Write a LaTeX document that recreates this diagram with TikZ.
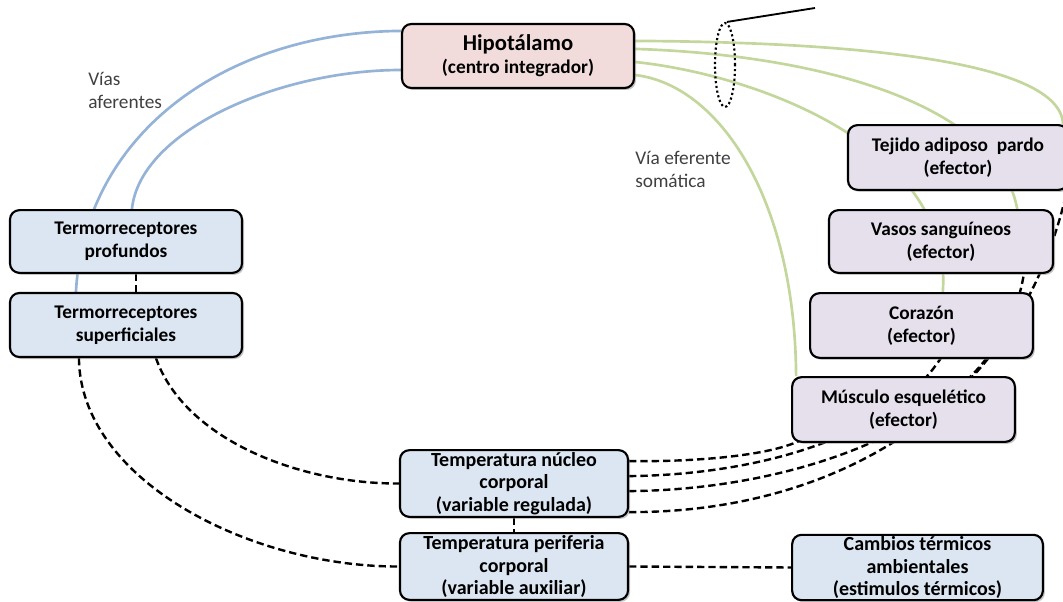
\documentclass[tikz,border=0pt]{standalone}
\usepackage{fontspec}
\setmainfont{Carlito}
\usetikzlibrary{shapes.geometric,shadows,calc}
\definecolor{bluefill}{HTML}{DCE6F2}
\definecolor{purplefill}{HTML}{E5E0EC}
\definecolor{pinkfill}{HTML}{F2DCDB}
\definecolor{afferent}{HTML}{95B3D7}
\definecolor{efferent}{HTML}{C3D69B}
\definecolor{labelgray}{HTML}{404040}
\pgfdeclarelayer{background}
\pgfsetlayers{background,main}
\tikzset{
  box/.style={draw=black, line width=1.6pt, rounded corners=7pt, inner sep=0pt, align=center,
    font=\fontsize{14.5}{17.5}\selectfont\bfseries,
    drop shadow={shadow xshift=1.5pt, shadow yshift=-1.5pt, fill=black!45, opacity=0.5}},
  bluebox/.style={box, fill=bluefill},
  purplebox/.style={box, fill=purplefill},
  pinkbox/.style={box, fill=pinkfill},
  smalltext/.style={font=\fontsize{15}{17}\selectfont\bfseries},
  affline/.style={draw=afferent, line width=2pt},
  effline/.style={draw=efferent, line width=2pt},
  dashline/.style={draw=black, line width=1.8pt, dash pattern=on 5.5pt off 3pt},
  lbl/.style={text=labelgray, align=left, inner sep=0pt, anchor=north west,
    font=\fontsize{14.5}{17.5}\selectfont}
}
\begin{document}
\begin{tikzpicture}[x=0.75pt,y=-0.75pt]
\useasboundingbox (0,0) rectangle (1063,602);
\clip (0,0) rectangle (1063,602);
% nodes
\node[pinkbox, minimum width=174pt, minimum height=48pt] (hip) at (518,56)
  {{\fontsize{17}{20}\selectfont Hipotálamo}\\(centro integrador)};
\node[bluebox, minimum width=174pt, minimum height=47pt] (prof) at (126,241.5)
  {Termorreceptores\\profundos};
\node[bluebox, minimum width=174pt, minimum height=48pt] (sup) at (126,325)
  {Termorreceptores\\superficiales};
\node[purplebox, minimum width=165pt, minimum height=48.5pt] (tej) at (958,157.5)
  {Tejido adiposo\ \ pardo\\(efector)};
\node[purplebox, minimum width=168pt, minimum height=47pt] (vas) at (941,241.5)
  {Vasos sanguíneos\\(efector)};
\node[purplebox, minimum width=167pt, minimum height=48.5pt] (cor) at (921.5,325.5)
  {Corazón\\(efector)};
\node[purplebox, minimum width=167pt, minimum height=48.5pt] (mus) at (903.5,409.5)
  {Músculo esquelético\\(efector)};
\node[bluebox, smalltext, minimum width=171pt, minimum height=50pt] (nuc) at (514,483.5)
  {Temperatura núcleo\\corporal\\(variable regulada)};
\node[bluebox, smalltext, minimum width=171pt, minimum height=50pt] (per) at (514,566.5)
  {Temperatura periferia\\corporal\\(variable auxiliar)};
\node[bluebox, smalltext, minimum width=188pt, minimum height=49pt] (cam) at (917.5,567.5)
  {Cambios térmicos\\ambientales\\(estimulos térmicos)};
% labels
\node[lbl] (laff) at (88,72) {Vías\\aferentes};
\node[lbl] (leff) at (635,151) {Vía eferente\\somática};
% nerve bundle
\node[draw=black, line width=1.6pt, dotted, ellipse, minimum width=15pt, minimum height=63pt, inner sep=0pt] (bundle) at (725,65) {};
\coordinate (bundleend) at (815,8);
\draw[black, line width=1.4pt] (bundle.north) ++(2,0) -- (bundleend);
% connectors
\begin{pgfonlayer}{background}
  % afferent
  \draw[affline] ($(sup.north west)+(67,0)$) .. controls (85,130) and (230,32) .. ($(hip.north west)+(0,8)$);
  \draw[affline] ($(prof.north west)+(123,0)$) .. controls (140,130) and (280,70) .. ($(hip.west)+(0,14)$);
  % efferent
  \draw[effline] ($(hip.north east)+(0,18)$) .. controls (850,42) and (1060,60) .. ($(tej.north east)+(-6,0)$);
  \draw[effline] ($(hip.north east)+(0,26)$) .. controls (830,55) and (1020,110) .. ($(vas.north west)+(191,20)$);
  \draw[effline] ($(hip.east)+(0,6)$) .. controls (760,75) and (960,150) .. ($(cor.north west)+(133,7)$);
  \draw[effline] ($(hip.east)+(0,19)$) .. controls (720,85) and (795,200) .. ($(mus.north west)+(5,0)$);
  % dashed
  \draw[dashline] ($(prof.south west)+(127,0)$) -- ($(sup.north west)+(127,0)$);
  \draw[dashline] ($(sup.south west)+(70,0)$) .. controls (80,480) and (250,567) .. (per.west);
  \draw[dashline] ($(sup.south west)+(147,0)$) .. controls (185,440) and (300,484) .. (nuc.west);
  \draw[dashline] (nuc.south) -- (per.north);
  \draw[dashline] (per.east) -- (cam.west);
  \draw[dashline] ($(nuc.north east)+(0,12)$) .. controls (700,462) and (770,455) .. ($(mus.south west)+(8,-2)$);
  \draw[dashline] ($(nuc.north east)+(0,27)$) .. controls (750,475) and (900,440) .. ($(cor.south west)+(140,-15)$);
  \draw[dashline] ($(nuc.north east)+(0,42)$) .. controls (800,490) and (1020,420) .. ($(vas.south east)+(-28,-23)$);
  \draw[dashline] ($(nuc.north east)+(0,63)$) .. controls (820,513) and (1020,420) .. ($(tej.south east)+(0,-10)$);
\end{pgfonlayer}
\end{tikzpicture}
\end{document}
